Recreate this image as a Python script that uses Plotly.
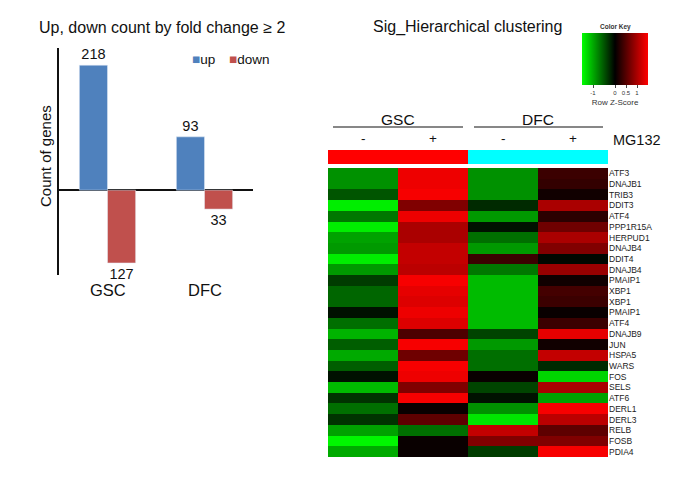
import plotly.graph_objects as go

W, H = 673, 497
FONT = "Liberation Sans, Arial, sans-serif"

# ---- bar chart data ----
categories = ["GSC", "DFC"]
up_counts = [218, 93]
down_counts = [127, 33]
series_names = ["up", "down"]
series_colors = ["#4F81BD", "#C0504D"]

# ---- heatmap data ----
columns = ["GSC -", "GSC +", "DFC -", "DFC +"]
genes = ["ATF3", "DNAJB1", "TRIB3", "DDIT3", "ATF4", "PPP1R15A", "HERPUD1", "DNAJB4",
         "DDIT4", "DNAJB4", "PMAIP1", "XBP1", "XBP1", "PMAIP1", "ATF4", "DNAJB9", "JUN",
         "HSPA5", "WARS", "FOS", "SELS", "ATF6", "DERL1", "DERL3", "RELB", "FOSB", "PDIA4"]
zscores = [
    [-0.85, 1.40, -0.85, 0.35],
    [-0.85, 1.40, -0.85, 0.30],
    [-0.50, 1.45, -0.85, 0.10],
    [-1.40, 0.75, -0.25, 1.00],
    [-0.70, 1.40, -0.90, 0.25],
    [-1.40, 1.00, -0.10, 0.65],
    [-0.95, 1.00, -0.65, 1.00],
    [-0.90, 1.15, -0.90, 0.75],
    [-1.40, 1.15, 0.35, -0.05],
    [-0.90, 1.10, -0.70, 0.90],
    [-0.35, 1.45, -1.10, 0.10],
    [-0.60, 1.35, -1.10, 0.40],
    [-0.60, 1.30, -1.10, 0.35],
    [-0.10, 1.40, -1.10, 0.05],
    [-0.65, 1.30, -1.10, 0.35],
    [-1.05, 0.45, -0.40, 1.35],
    [-0.55, 1.45, -0.90, 0.10],
    [-1.00, 0.65, -0.65, 1.15],
    [-0.55, 1.45, -0.65, -0.25],
    [-0.10, 1.40, 0.05, -1.25],
    [-1.10, 0.75, -0.40, 1.00],
    [-0.30, 1.45, -0.10, -0.95],
    [-0.65, 0.05, -0.85, 1.45],
    [-0.30, 0.55, -1.35, 1.10],
    [-0.95, -0.65, 1.15, 0.55],
    [-1.45, 0.05, 0.75, 0.75],
    [-1.00, 0.05, -0.35, 1.45],
]
key_ticks = [-1, 0, 0.5, 1]


def px(x):
    return x / W


def py(y):
    return 1 - y / H


fig = go.Figure()

fig.add_trace(go.Bar(
    x=categories, y=up_counts, name=series_names[0], marker_color=series_colors[0],
    text=up_counts, textposition="outside", cliponaxis=False,
    textfont=dict(size=14.5, color="#111"), xaxis="x", yaxis="y", showlegend=False,
))
fig.add_trace(go.Bar(
    x=categories, y=[-v for v in down_counts], name=series_names[1],
    marker_color=series_colors[1],
    text=down_counts, textposition="outside", cliponaxis=False,
    textfont=dict(size=14.5, color="#111"), xaxis="x", yaxis="y", showlegend=False,
))

fig.add_trace(go.Heatmap(
    z=zscores, x=list(range(len(columns))), y=list(range(len(genes))),
    xaxis="x2", yaxis="y2", zmin=-1.5, zmax=1.5,
    colorscale=[[0, "rgb(0,255,0)"], [0.5, "rgb(0,0,0)"], [1, "rgb(255,0,0)"]],
    showlegend=False,
    colorbar=dict(
        orientation="h", x=px(615), xanchor="center", y=py(33), yanchor="top",
        lenmode="pixels", len=66, thickness=52, xpad=0, ypad=0,
        outlinewidth=0, ticks="outside", ticklen=3, tickwidth=1,
        tickvals=key_ticks, ticktext=[str(t) for t in key_ticks],
        tickfont=dict(size=6, color="#333"),
        title=dict(text="Row Z-Score", side="bottom", font=dict(size=8, color="#333")),
    ),
))

fig.update_layout(
    width=W, height=H, margin=dict(l=0, r=0, t=0, b=0),
    paper_bgcolor="white", plot_bgcolor="white",
    font=dict(family=FONT, color="#111"),
    barmode="group", bargap=0.42, bargroupgap=0,
    showlegend=False,
    xaxis=dict(domain=[px(59), px(253)], range=[-0.5, 1.5], showticklabels=False,
               showline=False, showgrid=False, ticks="", anchor="y"),
    yaxis=dict(domain=[py(275), py(48)], range=[-148, 248], showticklabels=False,
               showgrid=False, showline=True, linecolor="#111", linewidth=1.5,
               zeroline=True, zerolinecolor="#111", zerolinewidth=1.5, ticks="",
               anchor="x"),
    xaxis2=dict(domain=[px(328), px(608)], range=[-0.5, 3.5], showticklabels=False,
                showgrid=False, zeroline=False, showline=False, ticks="", anchor="y2"),
    yaxis2=dict(domain=[py(457), py(168)], range=[len(genes) - 0.5, -0.5],
                side="right", tickvals=list(range(len(genes))), ticktext=genes,
                tickfont=dict(size=8.5, color="#222"), showgrid=False, zeroline=False,
                showline=False, ticks="", anchor="x2"),
)

C = dict(xanchor="center", yanchor="middle", showarrow=False)
ann = []
ann.append(dict(text="Up, down count by fold change ≥ 2", x=px(162), y=py(27),
                xref="paper", yref="paper", font=dict(size=16), **C))
ann.append(dict(text="Count of genes", x=px(45), y=py(156), xref="paper", yref="paper",
                textangle=-90, font=dict(size=15), **C))
# legend (tight, as in the reference)
legend_x = [190, 227]
for name, col, lx in zip(series_names, series_colors, legend_x):
    ann.append(dict(text=f"<span style='color:{col}'>■</span>{name}", x=px(lx),
                    y=py(59), xref="paper", yref="paper", xanchor="left",
                    yanchor="middle", showarrow=False, font=dict(size=13.5)))
for c in categories:
    ann.append(dict(text=c, x=c, y=py(290), xref="x", yref="paper",
                    font=dict(size=16.5), **C))
ann.append(dict(text="Sig_Hierarchical clustering", x=px(467), y=py(27), xref="paper",
                yref="paper", font=dict(size=16), **C))
ann.append(dict(text="<b>Color Key</b>", x=px(615), y=py(27), xref="paper", yref="paper",
                font=dict(size=6.5, color="#333"), **C))
ann.append(dict(text="GSC", x=0.5, y=py(119), xref="x2", yref="paper",
                font=dict(size=15.5), **C))
ann.append(dict(text="DFC", x=2.5, y=py(119), xref="x2", yref="paper",
                font=dict(size=15.5), **C))
for i, c in enumerate(columns):
    ann.append(dict(text=c.split()[1], x=i, y=py(139), xref="x2", yref="paper",
                    font=dict(size=13.5), **C))
ann.append(dict(text="MG132", x=px(637), y=py(140), xref="paper", yref="paper",
                font=dict(size=14.5), **C))
fig.update_layout(annotations=ann)

shapes = [
    dict(type="line", xref="paper", yref="paper", x0=px(333), x1=px(463), y0=py(127),
         y1=py(127), line=dict(color="#111", width=1.2)),
    dict(type="line", xref="paper", yref="paper", x0=px(474), x1=px(603), y0=py(127),
         y1=py(127), line=dict(color="#111", width=1.2)),
    dict(type="rect", xref="x2", yref="paper", x0=-0.5, x1=1.5, y0=py(164), y1=py(150),
         fillcolor="#FF0000", line=dict(width=0)),
    dict(type="rect", xref="x2", yref="paper", x0=1.5, x1=3.5, y0=py(164), y1=py(150),
         fillcolor="#00FFFF", line=dict(width=0)),
]
fig.update_layout(shapes=shapes)

fig.write_html("out.html", config={"displayModeBar": False},
               post_script="document.body.style.margin='0';")
